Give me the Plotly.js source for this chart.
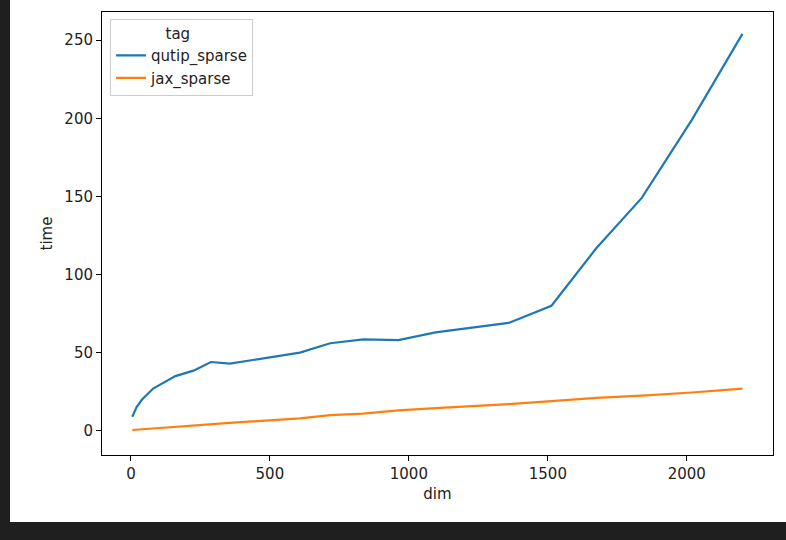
<!DOCTYPE html>
<html><head><script src="https://cdn.plot.ly/plotly-3.0.1.min.js"></script>
<style>body{margin:0;background:#1f1f1f;width:786px;height:540px;overflow:hidden}
#plot{position:absolute;left:10px;top:0;width:776px;height:522px;background:#fff}</style></head>
<body><div id="plot"></div><script>
let dims = [5, 20, 40, 80, 160, 225, 288, 356, 608, 717, 836, 962, 1096, 1359, 1513, 1675, 1838, 2018, 2200];
let qutip = [9, 15, 20, 27, 35, 38.5, 44, 43, 50, 56, 58.5, 58, 63, 69, 80, 117, 149, 199, 254];
let jax = [0.5, 0.7, 1, 1.5, 2.5, 3.3, 4, 5, 8, 10, 11, 13, 14.5, 17, 19, 21, 22.5, 24.5, 27];
let font = {family: 'DejaVu Sans', size: 15, color: '#222'};
let data = [
  {x: dims, y: qutip, name: 'qutip_sparse', mode: 'lines', line: {color: '#1f77b4', width: 2.2}},
  {x: dims, y: jax, name: 'jax_sparse', mode: 'lines', line: {color: '#ff7f0e', width: 2.2}}
];
let ax = {showgrid: false, zeroline: false, showline: true, mirror: true, linecolor: '#000', linewidth: 1,
  ticks: 'outside', ticklen: 5, tickcolor: '#000', tickfont: font};
let layout = {
  width: 776, height: 522, paper_bgcolor: '#fff', plot_bgcolor: '#fff', font: font,
  margin: {l: 92, r: 13, t: 12, b: 67},
  xaxis: Object.assign({}, ax, {range: [-104, 2310], tickvals: [0, 500, 1000, 1500, 2000], title: {text: 'dim', font: font, standoff: 6}}),
  yaxis: Object.assign({}, ax, {range: [-15.5, 268], tickvals: [0, 50, 100, 150, 200, 250], title: {text: 'time', font: font, standoff: 8}}),
  showlegend: true,
  legend: {x: 0.012, y: 0.985, xanchor: 'left', yanchor: 'top', bordercolor: '#ccc', borderwidth: 1,
    bgcolor: 'rgba(255,255,255,0.8)', font: font, title: {text: '           tag', font: font}}
};
Plotly.newPlot('plot', data, layout, {displayModeBar: false});
</script></body></html>
